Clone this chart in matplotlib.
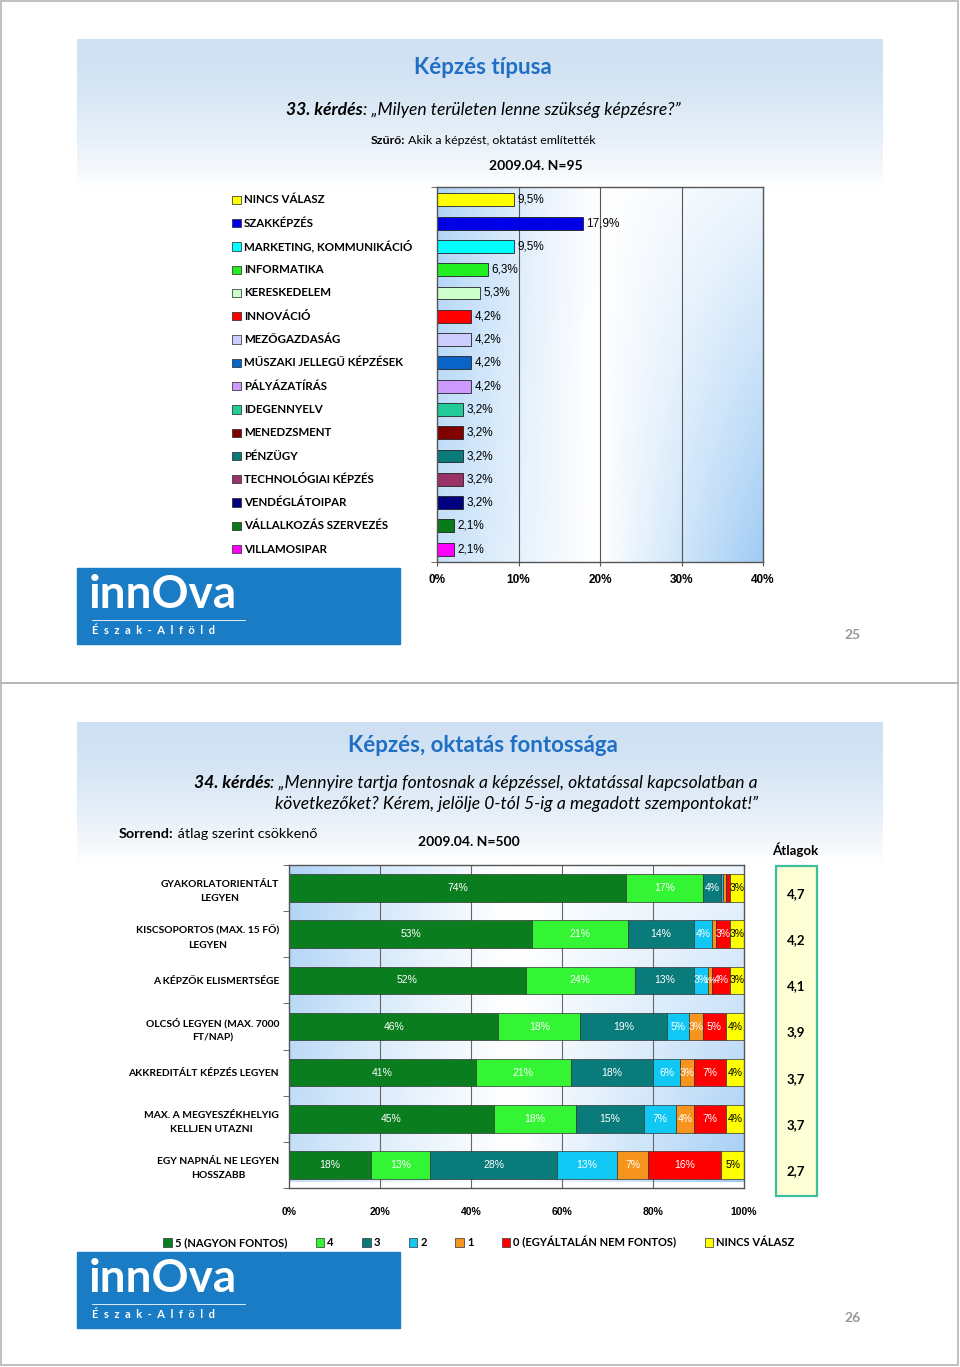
import numpy as np
import matplotlib.pyplot as plt
from matplotlib.patches import Rectangle
from matplotlib.transforms import blended_transform_factory

# --- data: slide 25, "Képzés típusa" ---
type_labels = ['NINCS VÁLASZ', 'SZAKKÉPZÉS', 'MARKETING, KOMMUNIKÁCIÓ', 'INFORMATIKA',
               'KERESKEDELEM', 'INNOVÁCIÓ', 'MEZŐGAZDASÁG', 'MŰSZAKI JELLEGŰ KÉPZÉSEK',
               'PÁLYÁZATÍRÁS', 'IDEGENNYELV', 'MENEDZSMENT', 'PÉNZÜGY',
               'TECHNOLÓGIAI KÉPZÉS', 'VENDÉGLÁTOIPAR', 'VÁLLALKOZÁS SZERVEZÉS', 'VILLAMOSIPAR']
type_values = [9.5, 17.9, 9.5, 6.3, 5.3, 4.2, 4.2, 4.2, 4.2, 3.2, 3.2, 3.2, 3.2, 3.2, 2.1, 2.1]
type_colors = ['#ffff00', '#0000e6', '#00ffff', '#22ee22', '#ccffcc', '#ff0000', '#ccccff',
               '#0a64c8', '#cc99ff', '#22cc99', '#800000', '#0a7b7b', '#993366', '#000080',
               '#0a7a1a', '#ff00ff']
type_ticks = [0, 10, 20, 30, 40]

# --- data: slide 26, "Képzés, oktatás fontossága" ---
imp_labels = ['GYAKORLATORIENTÁLT\nLEGYEN', 'KISCSOPORTOS (MAX. 15 FŐ)\nLEGYEN',
              'A KÉPZŐK ELISMERTSÉGE', 'OLCSÓ LEGYEN (MAX. 7000\nFT/NAP)',
              'AKKREDITÁLT KÉPZÉS LEGYEN', 'MAX. A MEGYESZÉKHELYIG\nKELLJEN UTAZNI',
              'EGY NAPNÁL NE LEGYEN\nHOSSZABB']
imp_series = ['5 (NAGYON FONTOS)', '4', '3', '2', '1', '0 (EGYÁLTALÁN NEM FONTOS)', 'NINCS VÁLASZ']
imp_5 = [74, 53.4, 52, 46, 41, 45, 18]
imp_4 = [17, 21.1, 24, 18, 21, 18, 13]
imp_3 = [4, 14.5, 13, 19, 18, 15, 28]
imp_2 = [0.35, 4, 3, 5, 6, 7, 13]
imp_1 = [0.7, 0.9, 1, 3, 3, 4, 7]
imp_0 = [0.95, 3.1, 4, 5, 7, 7, 16]
imp_nv = [3, 3, 3, 4, 4, 4, 5]
imp_colors = ['#0a7d1e', '#33f533', '#0a7b7b', '#11c8f5', '#f7941d', '#ff0000', '#ffff00']
averages = [4.7, 4.2, 4.1, 3.9, 3.7, 3.7, 2.7]
imp_ticks = [0, 20, 40, 60, 80, 100]

CAL = ['Lato', 'DejaVu Sans']
ARI = ['Liberation Sans', 'DejaVu Sans']
BLUE_TITLE = '#1f6fc5'
W, H = 960, 1367

fig = plt.figure(figsize=(9.6, 13.67), dpi=100)


def frac(x0, y0, x1, y1):
    return [x0 / W, 1 - y1 / H, (x1 - x0) / W, (y1 - y0) / H]


bg = fig.add_axes([0, 0, 1, 1], zorder=0)
bg.set_axis_off()
renderer = fig.canvas.get_renderer()


def mixed(x, y, parts, ha='left', **kw):
    # parts: list of (text, weight, style); laid out left to right
    widths = []
    for s, wgt, sty in parts:
        t = bg.text(0, 0, s, fontweight=wgt, fontstyle=sty, **kw)
        widths.append(t.get_window_extent(renderer=renderer).width)
        t.remove()
    total = sum(widths)
    if ha == 'center':
        x = x - total / 2
    elif ha == 'right':
        x = x - total
    for (s, wgt, sty), w in zip(parts, widths):
        bg.text(x, y, s, fontweight=wgt, fontstyle=sty, ha='left', va='center', **kw)
        x += w


def header(y0, y1):
    g = np.linspace(0, 1, 100)[:, None] ** 1.6
    top = np.array([0.81, 0.88, 0.95])
    img = np.ones((100, 2, 3)) * (top + (1 - top) * g[..., None])
    bg.imshow(img, extent=(77, 883, y1, y0), aspect='auto', zorder=1, interpolation='bilinear')


def logo(y0):
    bg.add_patch(Rectangle((77, y0), 323, 76, color='#1a7cc4', zorder=2))
    bg.text(89, y0 + 27, 'innOva', color='white', fontsize=33, fontweight='bold',
            family=CAL, va='center', ha='left', zorder=3)
    bg.plot([92, 245], [y0 + 52, y0 + 52], color='white', lw=0.6, zorder=3)
    bg.text(92, y0 + 62, 'É  s  z  a  k  -  A  l  f  ö  l  d', color='white', fontsize=8,
            fontweight='bold', family=CAL, va='center', ha='left', zorder=3)


def plot_bg(ax, x1, y0, y1):
    xs = np.linspace(0, 1, 200)[None, :]
    ys = np.linspace(0, 1, 100)[:, None]
    left = np.clip(1 - xs / 0.5, 0, 1) ** 1.2 * (0.85 - 0.25 * ys)
    right = np.clip((xs - 0.5) / 0.5, 0, 1) * (0.2 + 0.8 * ys)
    a = np.maximum(left, right)
    blue = np.array([0.63, 0.8, 0.96])
    img = 1 - a[..., None] * (1 - blue)
    ax.imshow(img, extent=(0, x1, y1, y0), aspect='auto', zorder=0, interpolation='bilinear')


# slide frames
bg.add_patch(Rectangle((1, 1), 957, 682, fill=False, ec='#b5b5b5', lw=1.2))
bg.add_patch(Rectangle((1, 683), 957, 682, fill=False, ec='#b5b5b5', lw=1.2))

# ---------------- slide 25 ----------------
header(39, 190)
bg.text(483, 68, 'Képzés típusa', color=BLUE_TITLE, fontsize=16, fontweight='bold',
        family=CAL, ha='center', va='center', zorder=3)
mixed(483, 110, [('33. kérdés', 'bold', 'italic'),
                 (': „Milyen területen lenne szükség képzésre?”', 'normal', 'italic')],
      ha='center', fontsize=12.6, family=CAL, zorder=3)
mixed(483, 141, [('Szűrő:', 'bold', 'normal'),
                 (' Akik a képzést, oktatást említették', 'normal', 'normal')],
      ha='center', fontsize=8.9, family=CAL, zorder=3)
bg.text(536, 166, '2009.04. N=95', fontsize=10, fontweight='bold', family=CAL,
        ha='center', va='center', zorder=3)

ax1 = fig.add_axes(frac(437, 187, 763, 562), zorder=2)
n1 = len(type_labels)
y1 = np.arange(n1)
lo1, hi1 = -0.55, n1 - 0.45
plot_bg(ax1, 40, lo1, hi1)
for x in type_ticks[1:-1]:
    ax1.axvline(x, color='#555555', lw=0.8, zorder=1)
ax1.barh(y1, type_values, height=0.55, color=type_colors, edgecolor='#222222', lw=0.6, zorder=2)
for yi, v in zip(y1, type_values):
    ax1.text(v + 0.4, yi, f'{v:.1f}'.replace('.', ',') + '%', fontsize=8.5, family=ARI,
             va='center', ha='left', zorder=3)
ax1.set_xlim(0, 40)
ax1.set_ylim(hi1, lo1)
ax1.set_xticks(type_ticks, [f'{t}%' for t in type_ticks])
ax1.set_yticks([])
ax1.set_yticks([lo1, hi1], minor=True)
ax1.tick_params(axis='x', length=3, pad=6, labelsize=8.5, color='#555555')
ax1.tick_params(axis='y', which='minor', length=4, color='#555555')
for lab in ax1.get_xticklabels():
    lab.set_fontweight('bold')
    lab.set_family(ARI)
for sp in ax1.spines.values():
    sp.set_color('#555555')
    sp.set_linewidth(1.0)

trans1 = blended_transform_factory(bg.transData, ax1.transData)
bg.scatter([236.5] * n1, y1, marker='s', s=36, c=type_colors, edgecolors='#222222',
           linewidths=0.5, transform=trans1, zorder=3, clip_on=False)
for yi, lab in zip(y1, type_labels):
    bg.text(244, yi, lab, fontsize=8.3, fontweight='bold', family=CAL, va='center', ha='left',
            transform=trans1, zorder=3)

bg.add_patch(Rectangle((580, 520), 172, 31, fc='#ffffcc', ec='#7f9fc8', lw=1.2, zorder=3))
bg.text(666, 536, '2% feletti említések', fontsize=9.5, fontweight='bold', family=CAL,
        ha='center', va='center', zorder=4)
logo(568)
bg.text(853, 635, '25', color='#999999', fontsize=10, fontweight='bold', family=CAL,
        ha='center', va='center', zorder=3)

# ---------------- slide 26 ----------------
header(722, 865)
bg.text(483, 746, 'Képzés, oktatás fontossága', color=BLUE_TITLE, fontsize=16,
        fontweight='bold', family=CAL, ha='center', va='center', zorder=3)
mixed(758, 783, [('34. kérdés', 'bold', 'italic'),
                 (': „Mennyire tartja fontosnak a képzéssel, oktatással kapcsolatban a',
                  'normal', 'italic')], ha='right', fontsize=12.6, family=CAL, zorder=3)
mixed(758, 804, [('következőket? Kérem, jelölje 0-tól 5-ig a megadott szempontokat!”',
                  'normal', 'italic')], ha='right', fontsize=12.6, family=CAL, zorder=3)
mixed(119, 834, [('Sorrend:', 'bold', 'normal'), (' átlag szerint csökkenő', 'normal', 'normal')],
      fontsize=10.4, family=CAL, zorder=3)
bg.text(469, 842, '2009.04. N=500', fontsize=10, fontweight='bold', family=CAL,
        ha='center', va='center', zorder=3)
bg.text(795, 850, 'Átlagok', fontsize=9.5, fontweight='bold', family=CAL,
        ha='center', va='center', zorder=3)

ax2 = fig.add_axes(frac(289, 865, 744, 1188), zorder=2)
n2 = len(imp_labels)
y2 = np.arange(n2)
lo2, hi2 = -0.49, n2 - 0.64
plot_bg(ax2, 100, lo2, hi2)
for x in imp_ticks[1:-1]:
    ax2.axvline(x, color='#666666', lw=0.8, zorder=1)
series = [imp_5, imp_4, imp_3, imp_2, imp_1, imp_0, imp_nv]
left = np.zeros(n2)
for name, vals, col in zip(imp_series, series, imp_colors):
    vals = np.array(vals, dtype=float)
    ax2.barh(y2, vals, left=left, height=0.6, color=col, edgecolor='#333333', lw=0.5,
             zorder=2, label=name)
    tc = 'black' if col == '#ffff00' else 'white'
    for yi, l, v in zip(y2, left, vals):
        if v >= 1:
            ax2.text(l + v / 2, yi, f'{v:.0f}%', fontsize=7.5 if v >= 2.5 else 6.5,
                     family=ARI, color=tc, ha='center', va='center', zorder=3)
    left += vals
ax2.set_xlim(0, 100)
ax2.set_ylim(hi2, lo2)
ax2.set_xticks(imp_ticks, [f'{t}%' for t in imp_ticks])
ax2.set_yticks(y2, imp_labels)
ax2.set_yticks(np.arange(n2 + 1) - 0.5, minor=True)
ax2.tick_params(axis='x', length=0, pad=14, labelsize=7.5)
ax2.tick_params(axis='y', which='major', length=0, pad=7.2, labelsize=7.4)
ax2.tick_params(axis='y', which='minor', length=4, color='#555555')
for lab in ax2.get_xticklabels():
    lab.set_fontweight('bold')
    lab.set_family(ARI)
for lab in ax2.get_yticklabels():
    lab.set_fontweight('bold')
    lab.set_family(CAL)
    lab.set_multialignment('center')
    lab.set_linespacing(1.75)
for sp in ax2.spines.values():
    sp.set_color('#555555')
    sp.set_linewidth(1.0)
ax2.legend(loc='center', bbox_to_anchor=(0.5 + (479 - 516.5) / 455, -0.168), ncol=7,
           frameon=False, handlelength=0.75, handleheight=0.75, handletextpad=0.3,
           columnspacing=2.55, prop={'family': CAL, 'weight': 'bold', 'size': 8})

trans2 = blended_transform_factory(bg.transData, ax2.transData)
bg.add_patch(Rectangle((776, 866), 41, 330, fc='#ffffd6', ec='#3cbf9c', lw=1.6, zorder=2))
for yi, a in zip(y2, averages):
    bg.text(796, yi + 0.13, f'{a:.1f}'.replace('.', ','), fontsize=9.5, fontweight='bold',
            family=CAL, ha='center', va='center', transform=trans2, zorder=3)
logo(1252)
bg.text(853, 1318, '26', color='#999999', fontsize=10, fontweight='bold', family=CAL,
        ha='center', va='center', zorder=3)

bg.set_xlim(0, W)
bg.set_ylim(H, 0)
fig.savefig('out.png', dpi=100)
